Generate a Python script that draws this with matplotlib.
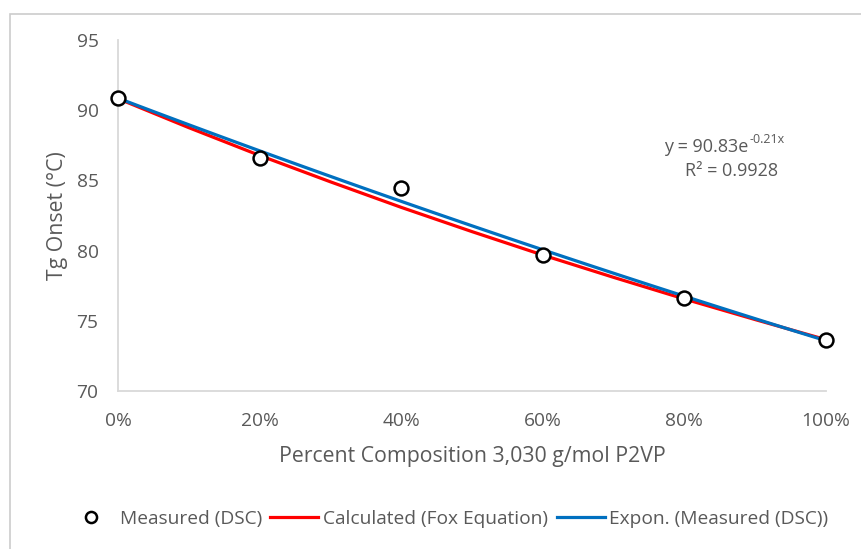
import matplotlib.pyplot as plt
import numpy as np
from matplotlib.lines import Line2D
from matplotlib.patches import Rectangle

plt.rcParams["font.family"] = ["Open Sans", "DejaVu Sans"]

TEXT = "#595959"
AXIS = "#d9d9d9"

# measured Tg onset (DSC)
comp = [0.0, 0.2, 0.4, 0.6, 0.8, 1.0]
tg_measured = [90.87, 86.6, 84.46, 79.69, 76.62, 73.63]

# Fox equation curve, read at 10% steps
fox_comp = [0.0, 0.1, 0.2, 0.3, 0.4, 0.5, 0.6, 0.7, 0.8, 0.9, 1.0]
tg_fox = [90.83, 88.76, 86.78, 84.9, 83.08, 81.35, 79.68, 78.09, 76.55, 75.08, 73.65]

x_ticks = [0.0, 0.2, 0.4, 0.6, 0.8, 1.0]
x_tick_labels = ["0%", "20%", "40%", "60%", "80%", "100%"]
y_ticks = [70, 75, 80, 85, 90, 95]

# exponential trendline fitted on the measured points (like Excel)
b, ln_a = np.polyfit(comp, np.log(tg_measured), 1)
xs = np.linspace(0, 1, 101)
trend = np.exp(ln_a) * np.exp(b * xs)

fig = plt.figure(figsize=(8.61, 5.49), dpi=100)
ax = fig.add_axes([0.137, 0.288, 0.8224, 0.639])

# chart area border (cut by the screenshot on the right and bottom)
fig.patches.append(Rectangle((10 / 861, -0.05), 1.1, 1 - 14 / 549 + 0.05,
                             transform=fig.transFigure, fill=False,
                             edgecolor="#cccccc", linewidth=1.2))

ax.plot(fox_comp, tg_fox, color="#ff0000", linewidth=2.3, zorder=2)
ax.plot(xs, trend, color="#0070c0", linewidth=2.3, zorder=3)
ax.plot(comp, tg_measured, linestyle="none", marker="o", markersize=10,
        markerfacecolor="white", markeredgecolor="black",
        markeredgewidth=1.8, zorder=4, clip_on=False)

ax.set_xlim(0, 1)
ax.set_ylim(70, 95)
ax.set_xticks(x_ticks)
ax.set_xticklabels(x_tick_labels)
ax.set_yticks(y_ticks)

for side in ["top", "right"]:
    ax.spines[side].set_visible(False)
for side in ["left", "bottom"]:
    ax.spines[side].set_color(AXIS)
    ax.spines[side].set_linewidth(1.3)

ax.tick_params(length=0, labelsize=13.8, colors=TEXT)
ax.tick_params(axis="y", pad=14)
ax.tick_params(axis="x", pad=15)
for lbl in ax.get_xticklabels() + ax.get_yticklabels():
    lbl.set_color(TEXT)

ax.set_xlabel("Percent Composition 3,030 g/mol P2VP", fontsize=15.3,
              color=TEXT, labelpad=12)
ax.set_ylabel("Tg Onset (°C)", fontsize=15.3, color=TEXT, labelpad=6)

# trendline equation, superscript drawn as its own small text
ax.text(0.891, 87.38, "y = 90.83e", fontsize=13, color=TEXT,
        ha="right", va="center")
ax.text(0.892, 87.95, "-0.21x", fontsize=9, color=TEXT,
        ha="left", va="center")
ax.text(0.866, 85.67, "R² = 0.9928", fontsize=13, color=TEXT,
        ha="center", va="center")

handles = [
    Line2D([], [], linestyle="none", marker="o", markersize=8,
           markerfacecolor="white", markeredgecolor="black",
           markeredgewidth=1.8),
    Line2D([], [], color="#ff0000", linewidth=2.3),
    Line2D([], [], color="#0070c0", linewidth=2.3),
]
labels = ["Measured (DSC)", "Calculated (Fox Equation)",
          "Expon. (Measured (DSC))"]
fig.legend(handles, labels, loc="center", ncol=3, frameon=False,
           bbox_to_anchor=(0.52, 1 - 519 / 549), fontsize=13.8,
           labelcolor=TEXT, handlelength=2.5, handletextpad=0.25,
           columnspacing=0.45)

fig.savefig("out.png", dpi=100, facecolor="white")
